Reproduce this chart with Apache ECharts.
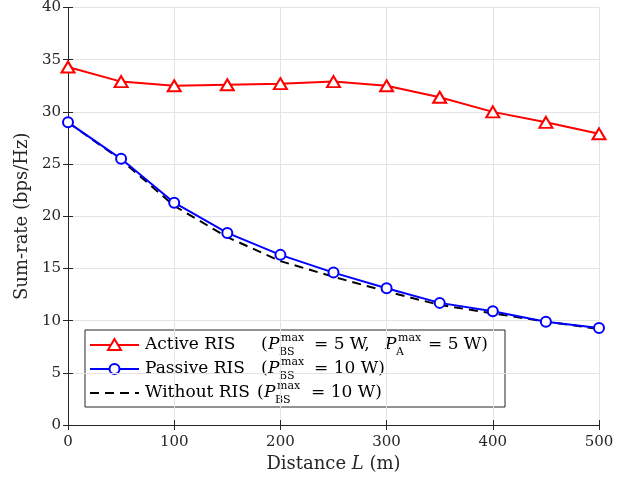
<!DOCTYPE html>
<html>
<head>
<meta charset="utf-8">
<script src="https://cdn.jsdelivr.net/npm/echarts@6/dist/echarts.min.js"></script>
<style>
html,body{margin:0;padding:0;background:#fff;}
#c{width:631px;height:482px;}
</style>
</head>
<body>
<div id="c"></div>
<script>
// Data
var distances = [0, 50, 100, 150, 200, 250, 300, 350, 400, 450, 500];
var activeRIS = [34.3, 32.9, 32.5, 32.6, 32.7, 32.9, 32.5, 31.4, 30.0, 29.0, 27.9];
var passiveRIS = [29.0, 25.5, 21.3, 18.4, 16.3, 14.6, 13.1, 11.7, 10.9, 9.9, 9.3];
var withoutRIS = [29.0, 25.4, 21.0, 18.0, 15.7, 14.2, 12.8, 11.5, 10.7, 9.9, 9.2];
var xTicks = [0, 100, 200, 300, 400, 500];
var yTicks = [0, 5, 10, 15, 20, 25, 30, 35, 40];

function pairs(ys){ return distances.map(function(x,i){ return [x, ys[i]]; }); }

var FF = '"DejaVu Serif", serif';
var AX = '#262626';
var GRID = '#e3e3e3';

var chart = echarts.init(document.getElementById('c'), null, {renderer:'canvas'});

// legend drawn as graphic
function txt(x, y, s, size, italic){
  return {type:'text', x:x, y:y, silent:true,
    style:{text:s, fill:'#000', font:(italic?'italic ':'') + size + 'px ' + FF, textVerticalAlign:'middle', textAlign:'left'}};
}
function pterm(x, y, sub){
  return [txt(x, y, 'P', 17, true), txt(x+13, y-7, 'max', 11, false), txt(x+11, y+7, sub, 11, false)];
}
var LX = 85, LY = 330;
var r1 = 345, r2 = 369, r3 = 393;
var legendEls = [
  {type:'rect', shape:{x:LX, y:LY, width:420, height:77}, style:{fill:'#fff', stroke:AX, lineWidth:1}, silent:true},
  {type:'line', shape:{x1:90, y1:r1, x2:139, y2:r1}, style:{stroke:'#ff0000', lineWidth:2}},
  {type:'polygon', shape:{points:[[114.5, r1-6],[121, r1+5],[108, r1+5]]}, style:{stroke:'#ff0000', fill:'#fff', lineWidth:2}},
  {type:'line', shape:{x1:90, y1:r2, x2:139, y2:r2}, style:{stroke:'#0000ff', lineWidth:2}},
  {type:'circle', shape:{cx:114.5, cy:r2, r:5}, style:{stroke:'#0000ff', fill:'#fff', lineWidth:2}},
  {type:'line', shape:{x1:90, y1:r3, x2:139, y2:r3}, style:{stroke:'#000', lineWidth:2, lineDash:[9,6]}},
  txt(145, r1, 'Active RIS', 17), txt(261, r1, '(', 17)
].concat(pterm(268, r1, 'BS')).concat([
  txt(314, r1, '= 5 W,', 17)
]).concat([txt(385, r1, 'P', 17, true), txt(398, r1-7, 'max', 11), txt(396, r1+7, 'A', 11)]).concat([
  txt(428, r1, '= 5 W)', 17),
  txt(145, r2, 'Passive RIS', 17), txt(261, r2, '(', 17)
]).concat(pterm(268, r2, 'BS')).concat([
  txt(314, r2, '= 10 W)', 17),
  txt(145, r3, 'Without RIS', 17), txt(257, r3, '(', 17)
]).concat(pterm(264, r3, 'BS')).concat([
  txt(311, r3, '= 10 W)', 17)
]);

var option = {
  backgroundColor:'#fff',
  animation:false,
  grid:{left:68, right:32, top:7, bottom:57, containLabel:false},
  xAxis:[{
    type:'value', min:0, max:500, interval:100,
    name:'{n|Distance }{i|L}{n| (m)}', nameLocation:'middle', nameGap:30,
    nameTextStyle:{rich:{n:{fontFamily:FF, fontSize:18, color:'#262626'}, i:{fontFamily:FF, fontSize:18, fontStyle:'italic', color:'#262626'}}},
    axisLine:{lineStyle:{color:AX, width:1}},
    axisTick:{inside:true, length:5, lineStyle:{color:AX}},
    axisLabel:{fontFamily:FF, fontSize:15, color:'#262626', margin:10,
      formatter:function(v){ return xTicks.indexOf(v) >= 0 ? String(v) : ''; }},
    splitLine:{show:true, lineStyle:{color:GRID, width:1}}
  },{
    type:'value', position:'top', min:0, max:500, interval:100,
    axisLine:{show:true, lineStyle:{color:AX}},
    axisTick:{inside:true, length:5, lineStyle:{color:AX}},
    axisLabel:{show:false}, splitLine:{show:false}
  }],
  yAxis:[{
    type:'value', min:0, max:40, interval:5,
    name:'Sum-rate (bps/Hz)', nameLocation:'middle', nameGap:35,
    nameTextStyle:{fontFamily:FF, fontSize:18, color:'#262626'},
    axisLine:{show:true, lineStyle:{color:AX, width:1}},
    axisTick:{show:true, inside:true, length:5, lineStyle:{color:AX}},
    axisLabel:{fontFamily:FF, fontSize:15, color:'#262626', margin:7,
      formatter:function(v){ return yTicks.indexOf(v) >= 0 ? String(v) : ''; }},
    splitLine:{show:true, lineStyle:{color:GRID, width:1}}
  },{
    type:'value', position:'right', min:0, max:40, interval:5,
    axisLine:{show:true, lineStyle:{color:AX}},
    axisTick:{show:true, inside:true, length:5, lineStyle:{color:AX}},
    axisLabel:{show:false}, splitLine:{show:false}
  }],
  series:[{
    name:'Without RIS', type:'line', data:pairs(withoutRIS), symbol:'none',
    lineStyle:{color:'#000', width:2, type:[9,6]}, z:2
  },{
    name:'Passive RIS', type:'line', data:pairs(passiveRIS), symbol:'emptyCircle', symbolSize:10,
    itemStyle:{color:'#0000ff', borderColor:'#0000ff', borderWidth:2},
    lineStyle:{color:'#0000ff', width:2}, z:3
  },{
    name:'Active RIS', type:'line', data:pairs(activeRIS), symbol:'emptyTriangle', symbolSize:[13,11],
    itemStyle:{color:'#ff0000', borderColor:'#ff0000', borderWidth:2},
    lineStyle:{color:'#ff0000', width:2}, z:4
  }],
  graphic:legendEls
};
chart.setOption(option);
</script>
</body>
</html>
